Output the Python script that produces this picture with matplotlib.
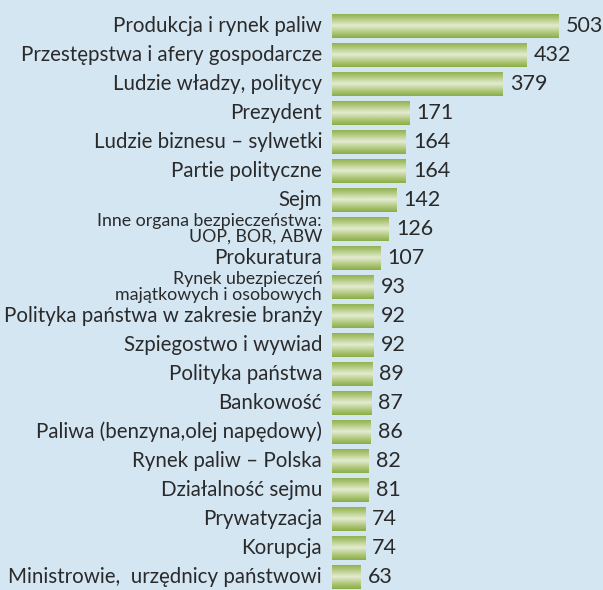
import numpy as np
import matplotlib.pyplot as plt
from matplotlib.colors import LinearSegmentedColormap

kategorie = [
    "Produkcja i rynek paliw",
    "Przestępstwa i afery gospodarcze",
    "Ludzie władzy, politycy",
    "Prezydent",
    "Ludzie biznesu – sylwetki",
    "Partie polityczne",
    "Sejm",
    "Inne organa bezpieczeństwa:\nUOP, BOR, ABW",
    "Prokuratura",
    "Rynek ubezpieczeń\nmajątkowych i osobowych",
    "Polityka państwa w zakresie branży",
    "Szpiegostwo i wywiad",
    "Polityka państwa",
    "Bankowość",
    "Paliwa (benzyna,olej napędowy)",
    "Rynek paliw – Polska",
    "Działalność sejmu",
    "Prywatyzacja",
    "Korupcja",
    "Ministrowie,  urzędnicy państwowi",
]
wartosci = [503, 432, 379, 171, 164, 164, 142, 126, 107, 93,
            92, 92, 89, 87, 86, 82, 81, 74, 74, 63]

plt.rcParams['font.family'] = ['Lato', 'DejaVu Sans']
tlo = "#d5e6f3"
tekst = "#2a2a2a"

fig = plt.figure(figsize=(6.03, 5.90), dpi=100, facecolor=tlo)
ax = fig.add_axes([332 / 603, 0, 1 - 332 / 603, 1])
ax.set_facecolor(tlo)

y = np.arange(len(kategorie))
bary = ax.barh(y, wartosci, height=0.85, color="none", edgecolor="none")

# gradient pionowy w kazdym slupku
cmap = LinearSegmentedColormap.from_list("ziel", ["#8aae46", "#b6cc85", "#e4ecd2", "#b6cc85", "#8aae46"])
grad = np.linspace(0, 1, 64).reshape(-1, 1)
for b in bary:
    x0, y0 = b.get_x(), b.get_y()
    w, h = b.get_width(), b.get_height()
    im = ax.imshow(grad, cmap=cmap, aspect="auto", extent=[x0, x0 + w, y0, y0 + h],
                   origin="lower", interpolation="bilinear")
    im.set_clip_path(b)

ax.set_xlim(0, (603 - 332) / 0.451)
ax.set_ylim((590 - 26) / 29, -26 / 29)
ax.axis("off")

for i, (k, v) in enumerate(zip(kategorie, wartosci)):
    rozmiar = 12.8 if "\n" in k else 14.8
    ax.text(-10 / 0.451, i, k, ha="right", va="center", fontsize=rozmiar,
            color=tekst, linespacing=0.95)
    ax.text(v + 7 / 0.451, i, str(v), ha="left", va="center", fontsize=15.5, color=tekst)

fig.savefig("out.png", dpi=100, facecolor=tlo)
